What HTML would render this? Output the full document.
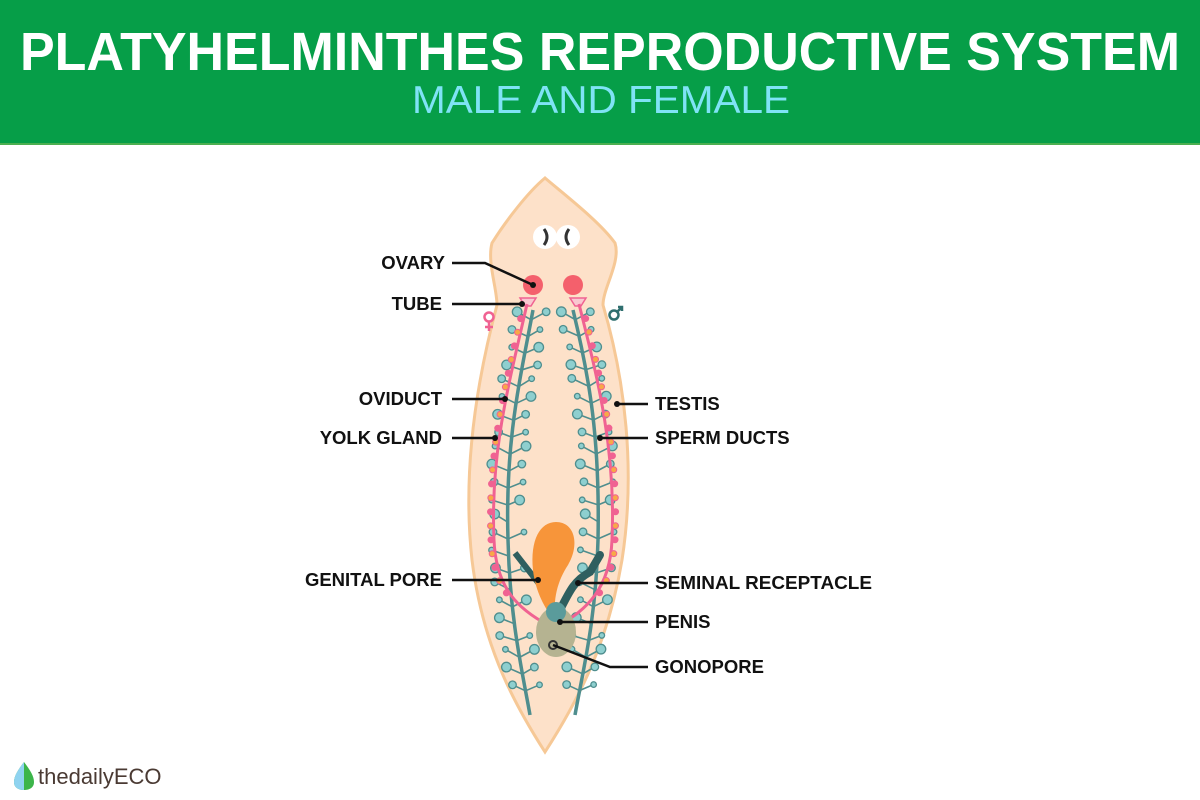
<!DOCTYPE html>
<html><head><meta charset="utf-8"><style>
html,body{margin:0;padding:0;background:#fff;width:1200px;height:800px;overflow:hidden}
svg{display:block}
text{font-family:"Liberation Sans",sans-serif}
</style></head><body>
<svg id="s" width="1200" height="800" viewBox="0 0 1200 800" xmlns="http://www.w3.org/2000/svg">
<rect x="0" y="0" width="1200" height="143" fill="#069e48"/>
<rect x="0" y="143" width="1200" height="2" fill="#4caf50"/>
<text x="20" y="70" font-size="54" font-weight="bold" fill="#fff" textLength="1160" lengthAdjust="spacingAndGlyphs">PLATYHELMINTHES REPRODUCTIVE SYSTEM</text>
<text x="412" y="113" font-size="39" fill="#7fe3f5" textLength="378" lengthAdjust="spacingAndGlyphs">MALE AND FEMALE</text>

<path d="M545,178 C565,195 600,222 615,243 C621,262 603,288 603,305 C625,380 636,470 622,560 C607,650 572,710 545,752 C518,710 483,650 472,560 C462,470 477,380 497,305 C497,288 487,262 492,243 C505,222 528,192 545,178 Z" fill="#fde1c9" stroke="#f6c896" stroke-width="3"/>
<circle cx="545" cy="237" r="12" fill="#fff"/>
<circle cx="568" cy="237" r="12" fill="#fff"/>
<path d="M544,229 Q550,237 544,245" stroke="#333" stroke-width="3" fill="none"/>
<path d="M569,229 Q563,237 569,245" stroke="#333" stroke-width="3" fill="none"/>
<circle cx="533" cy="285" r="10" fill="#f4606c"/>
<circle cx="573" cy="285" r="10" fill="#f4606c"/>
<path d="M520,298 L536,298 L531,306 L525,306 Z" fill="#f9c8d0" stroke="#f06292" stroke-width="1.5"/>
<path d="M570,298 L586,298 L581,306 L575,306 Z" fill="#f9c8d0" stroke="#f06292" stroke-width="1.5"/>
<g id="br"></g>
<path id="tl" d="M533,310 C520,380 505,440 508,540 C510,620 522,670 530,715" stroke="#4f8e8e" stroke-width="3.5" fill="none"/>
<path id="tr" d="M573,310 C590,380 600,440 598,540 C596,620 583,670 575,715" stroke="#4f8e8e" stroke-width="3.5" fill="none"/>
<path id="pl" d="M527,304 C510,380 490,450 494,540 C496,590 520,610 548,625" stroke="#f06292" stroke-width="3" fill="none"/>
<path id="pr" d="M579,304 C598,380 616,450 612,540 C610,590 585,610 560,625" stroke="#f06292" stroke-width="3" fill="none"/>
<g id="dots"></g>
<path d="M515,553 L540,585 L550,600" stroke="#2f5f5f" stroke-width="6" fill="none"/>
<path d="M560,610 C570,590 575,580 590,572 L600,555" stroke="#2f5f5f" stroke-width="8" fill="none" stroke-linecap="round"/>
<ellipse cx="556" cy="632" rx="20" ry="25" fill="#b5b391"/>
<path d="M556,522 C575,522 580,545 568,565 C558,580 552,600 556,622 C545,610 535,590 533,570 C530,540 540,522 556,522 Z" fill="#f7953a"/>
<circle cx="556" cy="612" r="10" fill="#5a9b9b"/>
<circle cx="553" cy="645" r="4" fill="none" stroke="#333" stroke-width="2"/>
<g stroke="#f06292" stroke-width="2.5" fill="none"><circle cx="489" cy="317" r="4.5"/><path d="M489,322 V331 M485,327 H493"/></g>
<g stroke="#2f6f6f" stroke-width="2.5" fill="none"><circle cx="614" cy="315" r="4.5"/><path d="M617,312 L622,307 M618,307 H622 V311"/></g>

<g stroke="#111" stroke-width="2.5" fill="none">
<path d="M452,263 L485,263 L533,285"/>
<path d="M452,304 L522,304"/>
<path d="M452,399 L505,399"/>
<path d="M452,438 L495,438"/>
<path d="M452,580 L538,580"/>
<path d="M617,404 L648,404"/>
<path d="M600,438 L648,438"/>
<path d="M578,583 L648,583"/>
<path d="M560,622 L648,622"/>
<path d="M553,645 L610,667 L648,667"/>
</g>
<g fill="#111"><circle cx="533" cy="285" r="3"/><circle cx="522" cy="304" r="3"/><circle cx="505" cy="399" r="3"/><circle cx="495" cy="438" r="3"/><circle cx="538" cy="580" r="3"/><circle cx="617" cy="404" r="3"/><circle cx="600" cy="438" r="3"/><circle cx="578" cy="583" r="3"/><circle cx="560" cy="622" r="3"/></g>
<g font-size="18.5" font-weight="bold" fill="#111">
<text x="445" y="269" text-anchor="end">OVARY</text>
<text x="442" y="310" text-anchor="end">TUBE</text>
<text x="442" y="405" text-anchor="end">OVIDUCT</text>
<text x="442" y="444" text-anchor="end">YOLK GLAND</text>
<text x="442" y="586" text-anchor="end">GENITAL PORE</text>
<text x="655" y="410">TESTIS</text>
<text x="655" y="444">SPERM DUCTS</text>
<text x="655" y="589" textLength="217" lengthAdjust="spacingAndGlyphs">SEMINAL RECEPTACLE</text>
<text x="655" y="628">PENIS</text>
<text x="655" y="673">GONOPORE</text>
</g>
<path d="M24,762 C30,770 34,776 34,782 C34,788 29,790 24,790 C19,790 14,788 14,782 C14,776 18,770 24,762 Z" fill="#3cb54a"/>
<path d="M24,762 C18,770 14,776 14,782 C14,788 19,790 24,790 Z" fill="#8fd3f0"/>
<text x="38" y="784" font-size="22" fill="#4a3a33">thedailyECO</text>
</svg>
<script>
(function(){
var NS="http://www.w3.org/2000/svg";
function el(p,n,a){var e=document.createElementNS(NS,n);for(var k in a)e.setAttribute(k,a[k]);p.appendChild(e);return e;}
var br=document.getElementById('br'),dots=document.getElementById('dots');
["tl","tr"].forEach(function(id,si){
 var p=document.getElementById(id),L=p.getTotalLength();
 var k=0;
 for(var i=10;i<L-8;i+=17){
  k++;
  var pt=p.getPointAtLength(i);
  [-1,1].forEach(function(d){
   if((k+(d>0?1:0))%2==0 && d==1 && i>200 && i<330) return;
   var len=(d==-1?13:12)+((k*7+d)%5);
   var ex=pt.x+d*len, ey=pt.y-5-((k*3)%4);
   el(br,'line',{x1:pt.x,y1:pt.y,x2:ex,y2:ey,stroke:'#4f8e8e','stroke-width':1.6});
   var r=2.8+((k*5+(d>0?2:0))%3);
   el(br,'circle',{cx:ex,cy:ey,r:r,fill:'#8ecfcf',stroke:'#4f8e8e','stroke-width':1.3});
  });
 }
});
["pl","pr"].forEach(function(id,si){
 var p=document.getElementById(id),L=p.getTotalLength();
 var k=0;
 for(var i=15;i<L-40;i+=14){
  k++;
  var pt=p.getPointAtLength(i);
  var dx=(si==0?-3:3);
  el(dots,'circle',{cx:pt.x+dx,cy:pt.y,r:3,fill:(k%2==0?'#f8a848':'#f06292'),stroke:'#f06292','stroke-width':1});
 }
});
})();
</script>
</body></html>
